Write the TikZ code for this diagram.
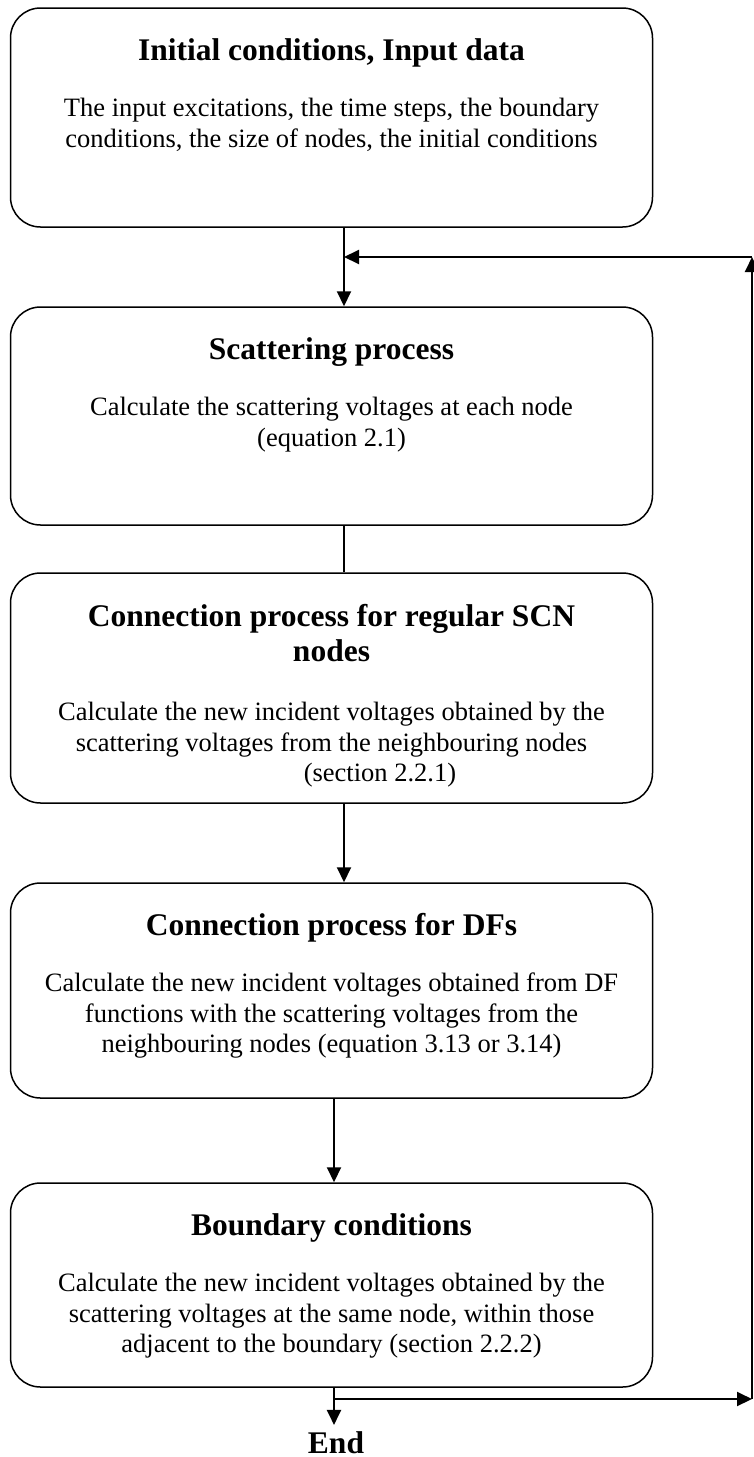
\documentclass[tikz,border=0pt]{standalone}
\usepackage{fontspec}
\setmainfont{Liberation Serif}
\usetikzlibrary{arrows.meta}
\begin{document}
\begin{tikzpicture}[x=1pt,y=-1pt,
  box/.style={draw, line width=1.5pt, rounded corners=30pt, minimum width=642pt, inner sep=0pt},
  ttl/.style={font=\fontsize{31.5}{35}\selectfont\bfseries, inner sep=0pt, anchor=base},
  ttlml/.style={font=\fontsize{31.5}{35}\selectfont\bfseries, inner sep=0pt, anchor=north, align=center},
  bodytxt/.style={font=\fontsize{26.5}{30.5}\selectfont, align=center, inner sep=0pt, anchor=north},
  conn/.style={line width=2pt, -{Triangle[length=15pt,width=14pt]}},
  plainline/.style={line width=2pt}]
\useasboundingbox (0,0) rectangle (754,1457);

% boxes
\node[box, minimum height=219pt] (b1) at (331.5,117.5) {};
\node[box, minimum height=218pt] (b2) at (331.5,416) {};
\node[box, minimum height=230pt] (b3) at (331.5,688) {};
\node[box, minimum height=215pt] (b4) at (331.5,990.5) {};
\node[box, minimum height=204pt] (b5) at (331.5,1285) {};

% titles
\node[ttl] (t1) at (331.5,60.5) {Initial conditions, Input data};
\node[ttl] (t2) at (331.5,359.5) {Scattering process};
\node[ttlml] (t3) at (331.5,603.8) {Connection process for regular SCN\\nodes};
\node[ttl] (t4) at (331.5,935.5) {Connection process for DFs};
\node[ttl] (t5) at (331.5,1235.5) {Boundary conditions};

% body texts
\node[bodytxt] (d1) at (331.5,95.2) {\strut The input excitations, the time steps, the boundary\\\strut conditions, the size of nodes, the initial conditions};
\node[bodytxt] (d2) at (331.5,394.2) {\strut Calculate the scattering voltages at each node\\\strut (equation 2.1)};
\node[bodytxt] (d3) at (331.5,699.2) {\strut Calculate the new incident voltages obtained by the\\\strut scattering voltages from the neighbouring nodes\hspace*{60pt}\\\strut\hspace*{97pt}(section 2.2.1)};
\node[bodytxt] (d4) at (331.5,970.2) {\strut Calculate the new incident voltages obtained from DF\\\strut functions with the scattering voltages from the\\\strut neighbouring nodes (equation 3.13 or 3.14)};
\node[bodytxt] (d5) at (331.5,1270.2) {\strut Calculate the new incident voltages obtained by the\\\strut scattering voltages at the same node, within those\\\strut adjacent to the boundary (section 2.2.2)};

% end
\node[ttl, inner sep=6pt] (endn) at (336,1453) {End};

% junctions
\coordinate (j1) at (344,257);
\coordinate (tr) at (752,257);
\coordinate (j2) at (334,1399);
\coordinate (br) at (752,1399);

% connectors
\draw[conn] (b1.south -| j1) -- (b2.north -| j1);
\draw[plainline] (b2.south -| j1) -- (b3.north -| j1);
\draw[conn] (b3.south -| j1) -- (b4.north -| j1);
\draw[conn] (b4.south -| j2) -- (b5.north -| j2);
\draw[conn] (b5.south -| j2) -- (endn.north -| j2);
\draw[conn] (j2) -- (br);
\draw[conn] (br) -- (tr);
\draw[conn] (tr) -- (j1);
\end{tikzpicture}
\end{document}
